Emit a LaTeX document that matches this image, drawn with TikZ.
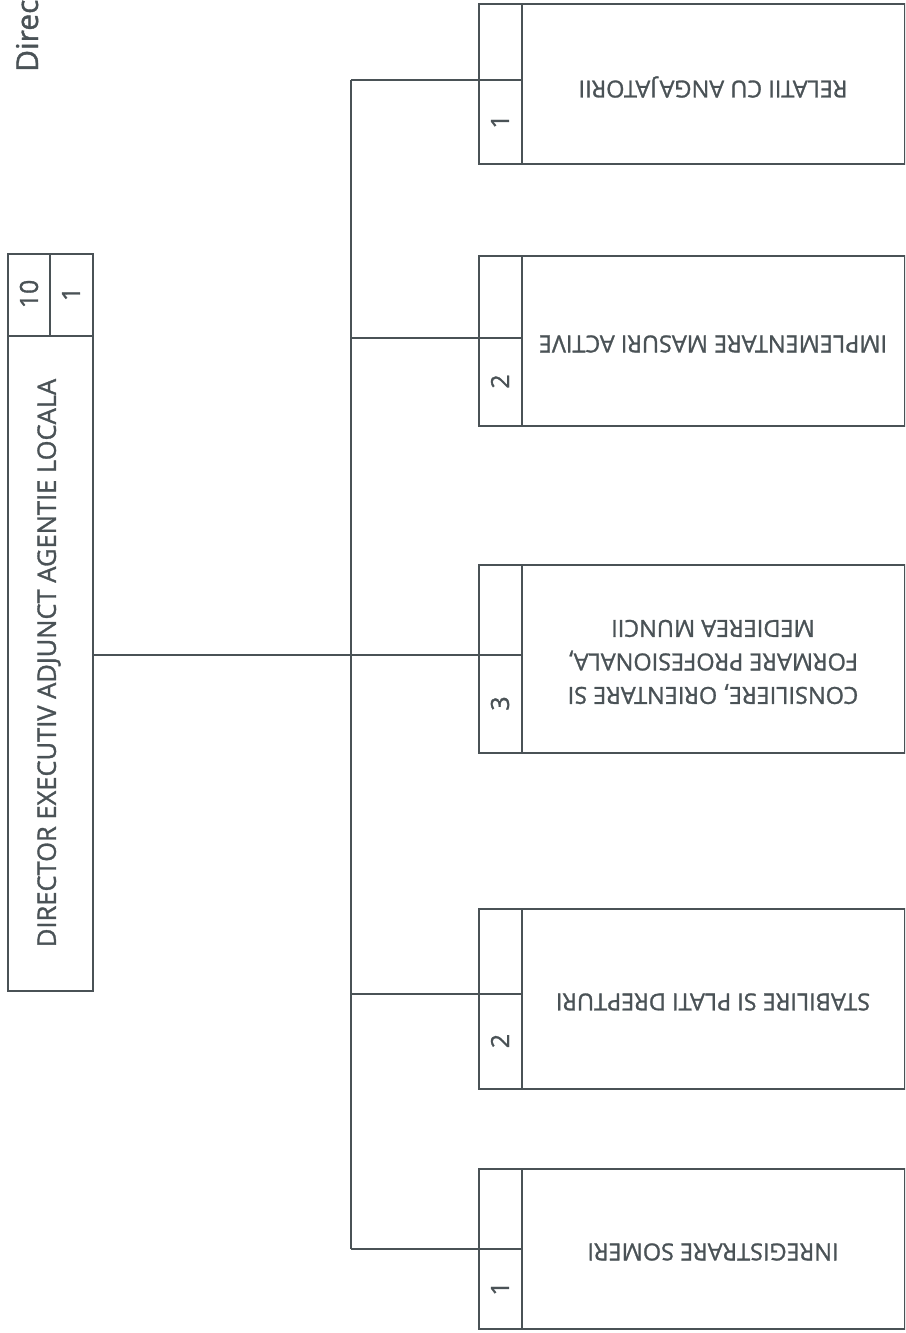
\documentclass[tikz,border=0pt]{standalone}
\usepackage{fontspec}
\setmainfont{Open Sans}[RawFeature={embolden=1.2}]
\usetikzlibrary{positioning,calc}
\definecolor{inkgrey}{RGB}{74,82,86}

\tikzset{
 frame/.style={draw=inkgrey, line width=2pt, inner sep=0pt, anchor=north west},
 link/.style={draw=inkgrey, line width=2pt},
 uptext/.style={text=inkgrey, rotate=90, inner sep=0pt, font=\fontsize{25.5}{30}\selectfont},
 cellnum/.style={uptext, font=\fontsize{25}{30}\selectfont},
 flip/.style={text=inkgrey, rotate=180, inner sep=0pt, align=center, font=\fontsize{23.5}{33.5}\selectfont},
}

\begin{document}
\begin{tikzpicture}[x=1pt,y=-1pt]
 \useasboundingbox (0,0) rectangle (905,1333);
 \clip (0,0) rectangle (905,1333);
 \node [uptext, font=\fontsize{30}{36}\selectfont, anchor=base west] (title) at (38,72) {Direct};
 % head box
 \node [frame, minimum width=85pt, minimum height=737pt] (head) at (7,253) {};
 \draw [link] ([yshift=-83pt]head.north west) -- ([yshift=-83pt]head.north east);
 \draw [link] ([xshift=43pt]head.north west) -- ([xshift=43pt,yshift=-83pt]head.north west);
 \node [cellnum] (headsum) at (29,294) {10};
 \node [cellnum] (headcnt) at (71,294) {1};
 \node [uptext] (headlbl) at (49,663) {DIRECTOR EXECUTIV ADJUNCT AGENTIE LOCALA};
 % units
 \foreach \n/\ytop/\ybot/\yj/\num/\txt in {
  1/3/163/80/1/{RELATII CU ANGAJATORII},
  2/255/425/338/2/{IMPLEMENTARE MASURI ACTIVE},
  3/564/752/655/3/{CONSILIERE, ORIENTARE SI\\FORMARE PROFESIONALA,\\MEDIEREA MUNCII},
  4/908/1088/994/2/{STABILIRE SI PLATI DREPTURI},
  5/1168/1328/1249/1/{INREGISTRARE SOMERI}} {
  \node [frame, minimum width=426pt, minimum height={\ybot-\ytop}] (unit\n) at (478,\ytop) {};
  \coordinate (join\n) at (478,\yj);
  \draw [link] ([xshift=44pt]unit\n.north west) -- ([xshift=44pt]unit\n.south west);
  \draw [link] (join\n) -- ++(44,0);
  \node [cellnum] (num\n) at (500,{(\yj+\ybot)/2}) {\num};
  \node [flip] (lbl\n) at (713,{(\ytop+\ybot)/2+4}) {\txt};
 }
 % connectors
 \coordinate (trunk) at (351,0);
 \draw [link] (trunk |- join1) -- (trunk |- join5);
 \draw [link] (head.east |- join3) -- (trunk |- join3);
 \foreach \n in {1,...,5}
  \draw [link] (trunk |- join\n) -- (join\n);
\end{tikzpicture}
\end{document}
